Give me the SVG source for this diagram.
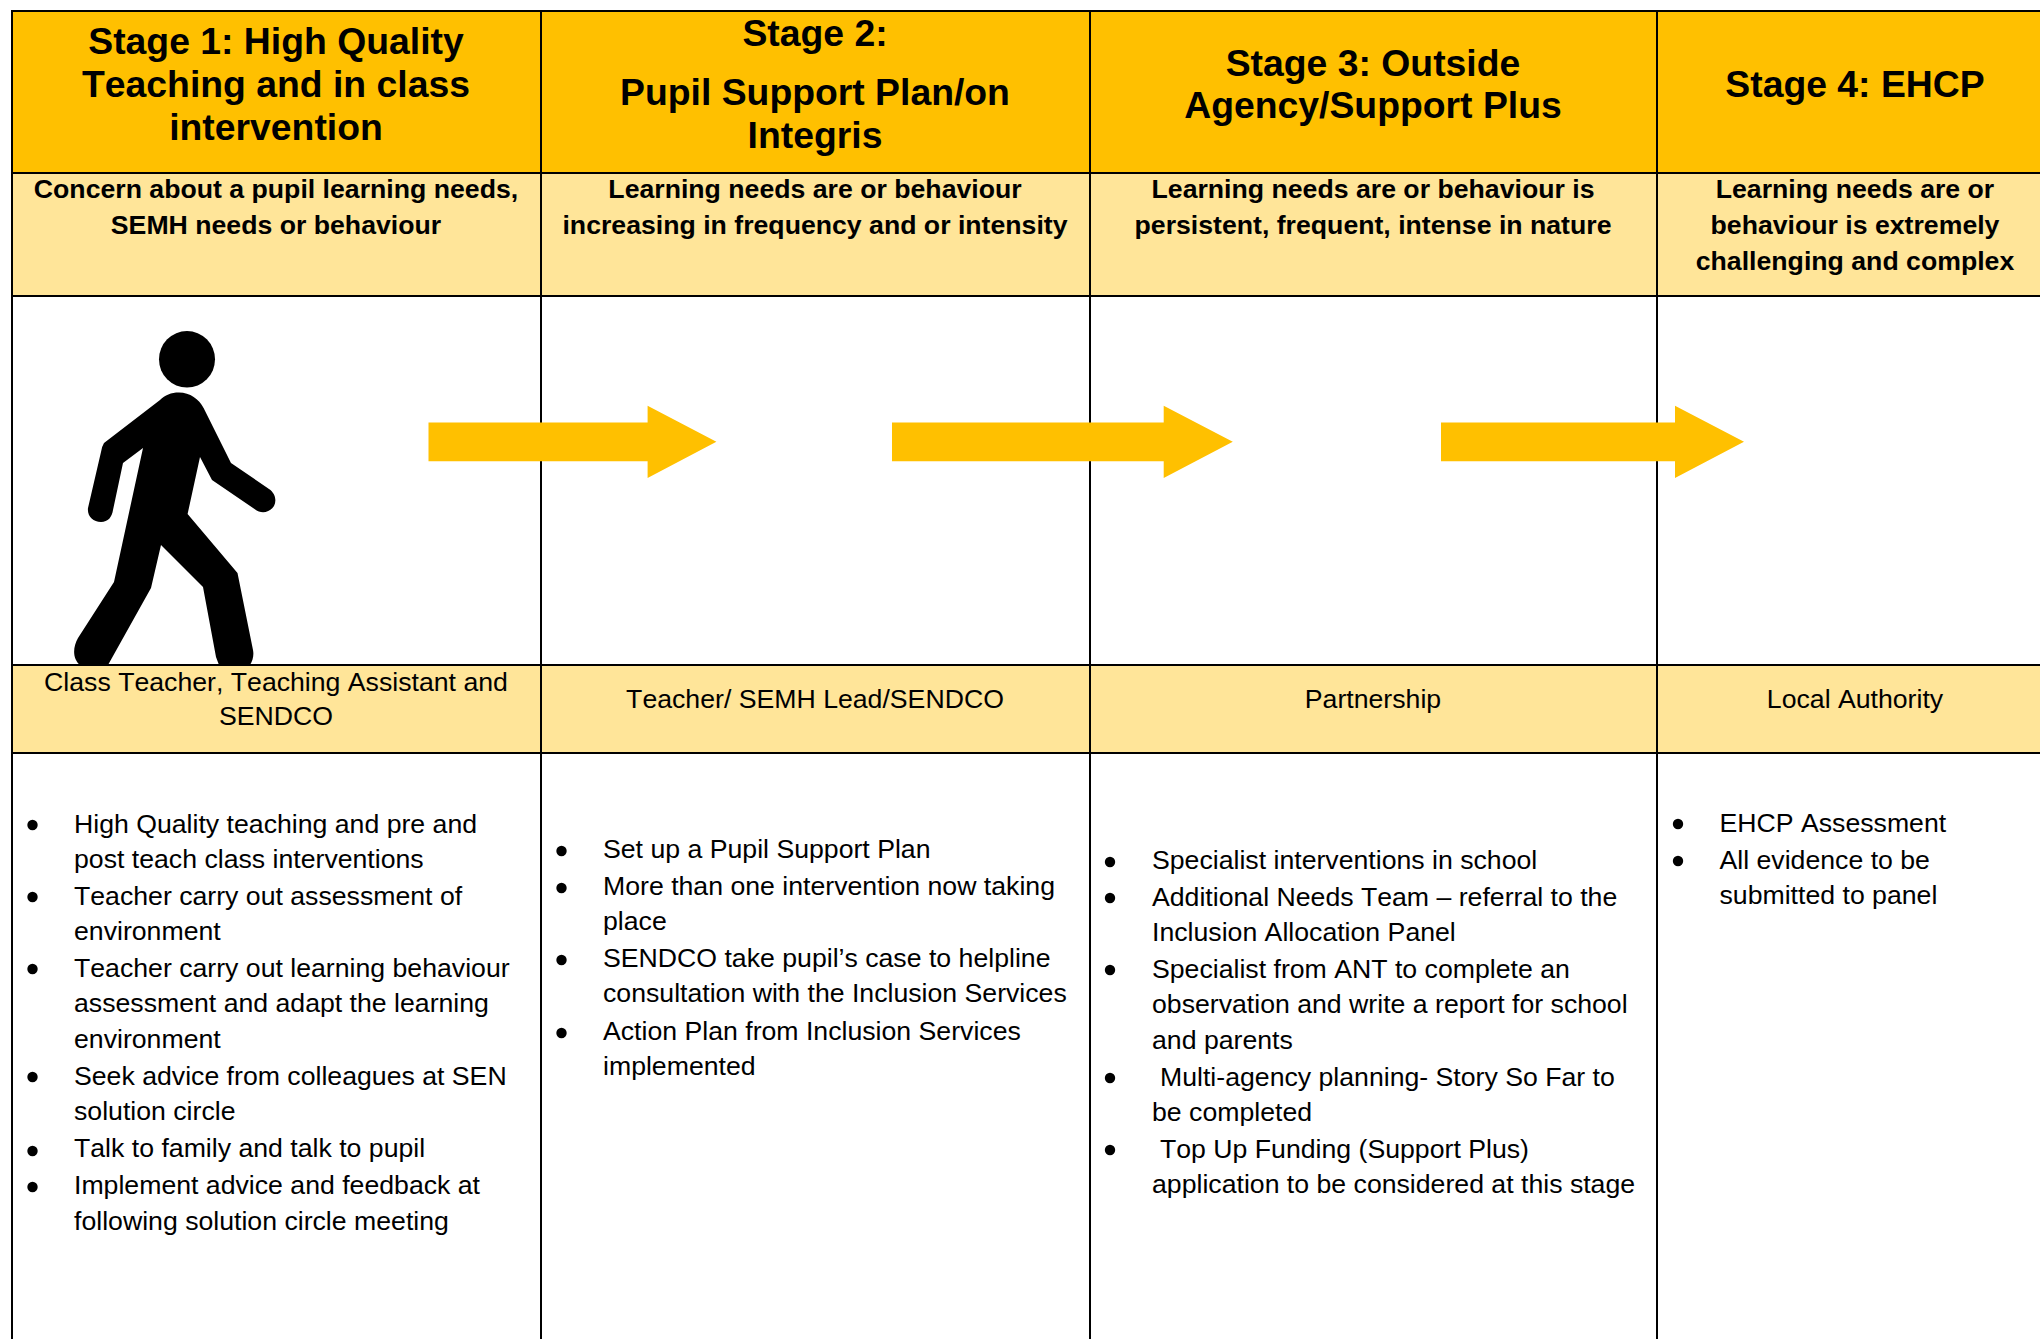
<svg xmlns="http://www.w3.org/2000/svg" width="2040" height="1339" viewBox="0 0 2040 1339">
<defs>
<style>
text{font-family:"Liberation Sans",Arial,sans-serif;fill:#000;font-kerning:none}
.h{font-size:37.33px;font-weight:700;text-anchor:middle}
.s{font-size:26.67px;font-weight:700;text-anchor:middle}
.r{font-size:26.67px;text-anchor:middle}
.b{font-size:26.67px}
.g{stroke:#000;stroke-width:2;fill:none}
.a{fill:#FFC000}
.l{fill:#FFE599}
</style>
<circle id="dot" r="5.200" fill="#000"/>
</defs>
<rect width="2040" height="1339" fill="#fff"/>
<g id="col1-head"><rect class="a" x="12" y="11" width="529" height="162"/><text class="h" x="276" y="54">Stage 1: High Quality</text><text class="h" x="276" y="97">Teaching and in class</text><text class="h" x="276" y="140">intervention</text></g>
<g id="col2-head"><rect class="a" x="541" y="11" width="549" height="162"/><text class="h" x="815" y="46">Stage 2:</text><text class="h" x="815" y="105">Pupil Support Plan/on</text><text class="h" x="815" y="148">Integris</text></g>
<g id="col3-head"><rect class="a" x="1090" y="11" width="567" height="162"/><text class="h" x="1373" y="76">Stage 3: Outside</text><text class="h" x="1373" y="118">Agency/Support Plus</text></g>
<g id="col4-head"><rect class="a" x="1657" y="11" width="383" height="162"/><text class="h" x="1855" y="97">Stage 4: EHCP</text></g>
<g id="col1-sub"><rect class="l" x="12" y="173" width="529" height="123"/><text class="s" x="276" y="198">Concern about a pupil learning needs,</text><text class="s" x="276" y="234">SEMH needs or behaviour</text></g>
<g id="col2-sub"><rect class="l" x="541" y="173" width="549" height="123"/><text class="s" x="815" y="198">Learning needs are or behaviour</text><text class="s" x="815" y="234">increasing in frequency and or intensity</text></g>
<g id="col3-sub"><rect class="l" x="1090" y="173" width="567" height="123"/><text class="s" x="1373" y="198">Learning needs are or behaviour is</text><text class="s" x="1373" y="234">persistent, frequent, intense in nature</text></g>
<g id="col4-sub"><rect class="l" x="1657" y="173" width="383" height="123"/><text class="s" x="1855" y="198">Learning needs are or</text><text class="s" x="1855" y="234">behaviour is extremely</text><text class="s" x="1855" y="270">challenging and complex</text></g>
<g id="col1-role"><rect class="l" x="12" y="665" width="529" height="88"/><text class="r" x="276" y="691">Class Teacher, Teaching Assistant and</text><text class="r" x="276" y="725">SENDCO</text></g>
<g id="col2-role"><rect class="l" x="541" y="665" width="549" height="88"/><text class="r" x="815" y="708">Teacher/ SEMH Lead/SENDCO</text></g>
<g id="col3-role"><rect class="l" x="1090" y="665" width="567" height="88"/><text class="r" x="1373" y="708">Partnership</text></g>
<g id="col4-role"><rect class="l" x="1657" y="665" width="383" height="88"/><text class="r" x="1855" y="708">Local Authority</text></g>
<g id="grid" class="g">
<path class="g" d="M11 11H2040M11 173H2040M11 296H2040M11 665H2040M11 753H2040M12 11V1339M541 11V1339M1090 11V1339M1657 11V1339"/>
</g>
<g id="person">
<ellipse cx="187" cy="359.300" rx="28" ry="28.300"/>
<path d="M179 392.500C171 392.500 165 395 160 400L104 443Q102 446 101 452L88 508C87 516 93 522 101 522C108 522 112 517 113 510L123 463L143 448L114 582L78 638C73 647 72 658 80 665H108L151 588L161 545L203 587L216 657L219 665H250C253 660 254 655 253 650L237.500 573L187.600 514L200 457L212 480L254.500 509C262 515 270 512 274 506C277 500 275 493 269 489L231 463L203.600 408C199 399 190 392.500 179 392.500Z"/>
</g>
<g id="connectors">
<polygon class="a" points="428.500,422.500 647.600,422.500 647.600,405.700 716.400,441.800 647.600,478 647.600,461.300 428.500,461.300"/>
<polygon class="a" points="892,422.500 1163.700,422.500 1163.700,405.700 1232.800,441.800 1163.700,478 1163.700,461.300 892,461.300"/>
<polygon class="a" points="1441,422.500 1675,422.500 1675,405.700 1744,441.800 1675,478 1675,461.300 1441,461.300"/>
</g>
<g id="col1-list">
<use href="#dot" x="32.500" y="825"/><text class="b" x="74" y="833">High Quality teaching and pre and</text><text class="b" x="74" y="868">post teach class interventions</text>
<use href="#dot" x="32.500" y="897"/><text class="b" x="74" y="905">Teacher carry out assessment of</text><text class="b" x="74" y="940">environment</text>
<use href="#dot" x="32.500" y="969"/><text class="b" x="74" y="977">Teacher carry out learning behaviour</text><text class="b" x="74" y="1012">assessment and adapt the learning</text><text class="b" x="74" y="1048">environment</text>
<use href="#dot" x="32.500" y="1077"/><text class="b" x="74" y="1085">Seek advice from colleagues at SEN</text><text class="b" x="74" y="1120">solution circle</text>
<use href="#dot" x="32.500" y="1151"/><text class="b" x="74" y="1157">Talk to family and talk to pupil</text>
<use href="#dot" x="32.500" y="1187"/><text class="b" x="74" y="1194">Implement advice and feedback at</text><text class="b" x="74" y="1230">following solution circle meeting</text>
</g>
<g id="col2-list">
<use href="#dot" x="561.500" y="851"/><text class="b" x="603" y="858">Set up a Pupil Support Plan</text>
<use href="#dot" x="561.500" y="888"/><text class="b" x="603" y="895">More than one intervention now taking</text><text class="b" x="603" y="930">place</text>
<use href="#dot" x="561.500" y="960"/><text class="b" x="603" y="967">SENDCO take pupil’s case to helpline</text><text class="b" x="603" y="1002">consultation with the Inclusion Services</text>
<use href="#dot" x="561.500" y="1033"/><text class="b" x="603" y="1040">Action Plan from Inclusion Services</text><text class="b" x="603" y="1075">implemented</text>
</g>
<g id="col3-list">
<use href="#dot" x="1110" y="862"/><text class="b" x="1152" y="869">Specialist interventions in school</text>
<use href="#dot" x="1110" y="898"/><text class="b" x="1152" y="906">Additional Needs Team – referral to the</text><text class="b" x="1152" y="941">Inclusion Allocation Panel</text>
<use href="#dot" x="1110" y="970"/><text class="b" x="1152" y="978">Specialist from ANT to complete an</text><text class="b" x="1152" y="1013">observation and write a report for school</text><text class="b" x="1152" y="1049">and parents</text>
<use href="#dot" x="1110" y="1078"/><text class="b" x="1160" y="1086">Multi-agency planning- Story So Far to</text><text class="b" x="1152" y="1121">be completed</text>
<use href="#dot" x="1110" y="1150"/><text class="b" x="1160" y="1158">Top Up Funding (Support Plus)</text><text class="b" x="1152" y="1193">application to be considered at this stage</text>
</g>
<g id="col4-list">
<use href="#dot" x="1678" y="824"/><text class="b" x="1719.500" y="832">EHCP Assessment</text>
<use href="#dot" x="1678" y="861"/><text class="b" x="1719.500" y="869">All evidence to be</text><text class="b" x="1719.500" y="904">submitted to panel</text>
</g>
</svg>
